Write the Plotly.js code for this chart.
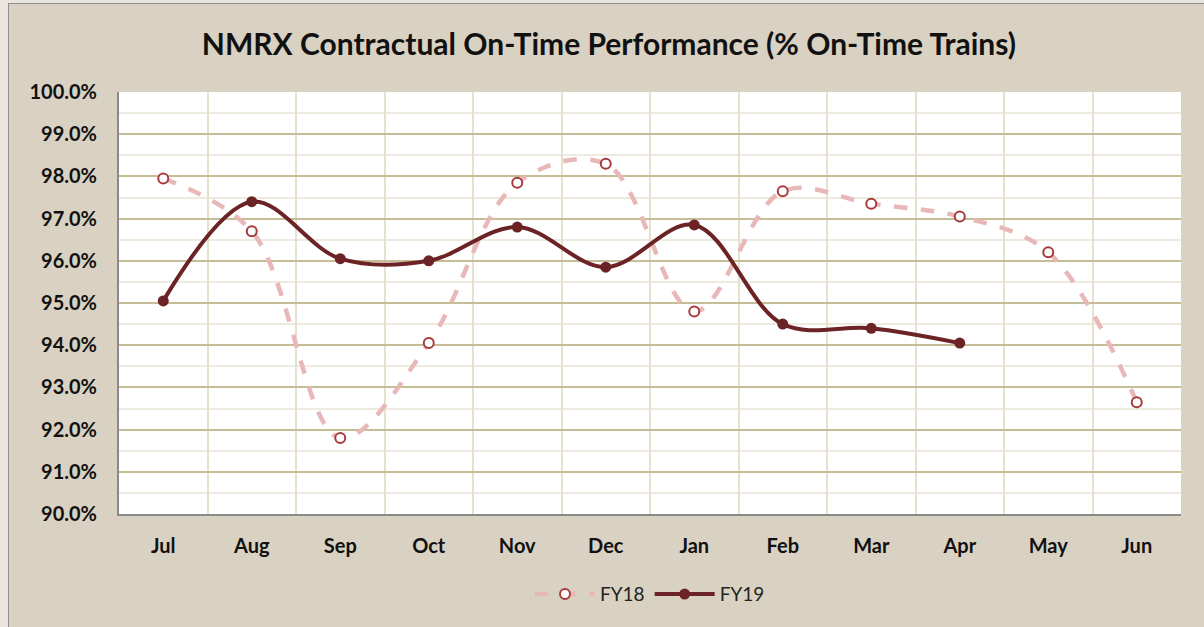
<!DOCTYPE html>
<html><head><meta charset="utf-8">
<script src="https://cdn.plot.ly/plotly-3.0.1.min.js"></script>
<style>
html,body{margin:0;padding:0;background:#EAE6DF;}
#chart{position:absolute;left:8px;top:3px;width:1195px;height:623px;border:1px solid #8f8f8f;border-right:none;border-bottom:none;}
</style></head>
<body><div id="chart"></div>
<script>
const months = ["Jul","Aug","Sep","Oct","Nov","Dec","Jan","Feb","Mar","Apr","May","Jun"];
const fy18 = [97.95, 96.7, 91.8, 94.05, 97.85, 98.3, 94.8, 97.65, 97.35, 97.05, 96.2, 92.65];
const fy19 = [95.05, 97.4, 96.05, 96.0, 96.8, 95.85, 96.85, 94.5, 94.4, 94.05];
const yTicks = [90,91,92,93,94,95,96,97,98,99,100];

const font = "Lato, 'Open Sans', sans-serif";
const traces = [
  {x: months, y: fy18, name: "FY18", type: "scatter", mode: "lines+markers",
   line: {color: "#E8B8B8", width: 4.5, dash: "dash", shape: "spline", smoothing: 1},
   marker: {symbol: "circle", size: 10, color: "#FFFFFF", line: {color: "#A83A3C", width: 2}}},
  {x: months.slice(0, fy19.length), y: fy19, name: "FY19", type: "scatter", mode: "lines+markers",
   line: {color: "#6B2325", width: 4, shape: "spline", smoothing: 1},
   marker: {symbol: "circle", size: 11, color: "#6B2325"}}
];
const layout = {
  width: 1195, height: 623,
  paper_bgcolor: "#D9D2C3", plot_bgcolor: "#FFFFFF",
  margin: {l: 110, r: 23, t: 88, b: 113},
  title: {text: "<b>NMRX Contractual On-Time Performance (% On-Time Trains)</b>",
          font: {family: font, size: 30, color: "#111"}, x: 0.502, xanchor: "center", y: 0.935, yanchor: "middle"},
  xaxis: {type: "category", categoryorder: "array", categoryarray: months,
          tickson: "boundaries", showgrid: true, gridcolor: "#E6E1CC", gridwidth: 2,
          showline: true, linecolor: "#8a8a8a", linewidth: 2, ticks: "", range: [-0.5, 11.5],
          tickfont: {family: font, size: 20, color: "#111", weight: "bold"}, ticklabelstandoff: 13, fixedrange: true},
  yaxis: {range: [90, 100], tickvals: yTicks, ticktext: yTicks.map(v => v.toFixed(1) + "%"),
          showgrid: true, gridcolor: "#C6BC96", gridwidth: 2,
          minor: {dtick: 0.5, tick0: 90, showgrid: true, gridcolor: "#EDEAE0", gridwidth: 2},
          showline: true, linecolor: "#8a8a8a", linewidth: 2, ticks: "", zeroline: false,
          tickfont: {family: font, size: 20, color: "#111", weight: "bold"}, ticklabelstandoff: 16, fixedrange: true},
  legend: {orientation: "h", x: 0.5, xanchor: "center", y: -0.19, yanchor: "middle",
           font: {family: font, size: 19, color: "#222"}, bgcolor: "rgba(0,0,0,0)", itemwidth: 60},
  showlegend: true
};
Plotly.newPlot("chart", traces, layout, {displayModeBar: false, staticPlot: true});
</script></body></html>
